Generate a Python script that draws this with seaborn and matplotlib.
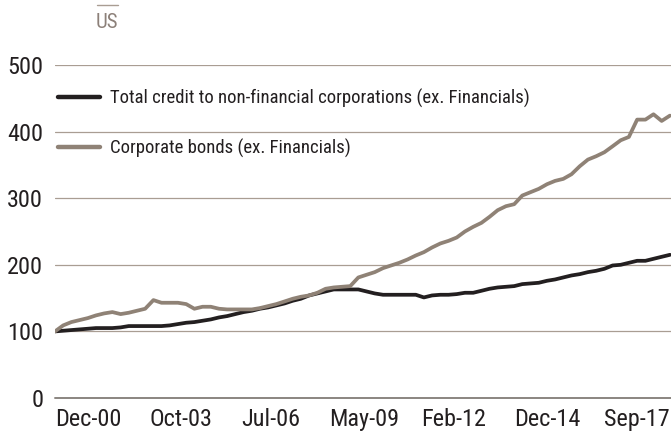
import matplotlib
matplotlib.use("Agg")
import matplotlib.pyplot as plt
from matplotlib import font_manager
from matplotlib.lines import Line2D
import pandas as pd
import seaborn as sns

# Quarterly index levels (Q4 1999 = 100), US
quarters = pd.date_range("1999-12-31", periods=76, freq="QE-DEC")

total_credit = [
    100, 101, 102, 103, 104, 105, 105, 105, 106, 108,
    108, 108, 108, 108, 109, 111, 113, 114, 116, 118,
    121, 123, 126, 129, 131, 134, 136, 139, 142, 146,
    149, 154, 157, 160, 163, 163, 163, 163, 160, 157,
    155, 155, 155, 155, 155, 151, 154, 155, 155, 156,
    158, 158, 161, 164, 166, 167, 168, 171, 172, 173,
    176, 178, 181, 184, 186, 189, 191, 194, 199, 200,
    203, 206, 206, 209, 212, 215,
]

corporate_bonds = [
    100, 109, 114, 117, 120, 124, 127, 129, 126, 128,
    131, 134, 147, 143, 143, 143, 141, 134, 137, 137,
    134, 133, 133, 133, 133, 135, 138, 141, 145, 149,
    152, 154, 158, 164, 166, 167, 168, 181, 185, 189,
    195, 199, 203, 208, 214, 219, 226, 232, 236, 241,
    250, 257, 263, 272, 282, 288, 291, 304, 309, 314,
    321, 326, 329, 336, 348, 358, 363, 369, 378, 387,
    392, 418, 418, 426, 416, 424,
]

series_names = [
    "Total credit to non-financial corporations (ex. Financials)",
    "Corporate bonds (ex. Financials)",
]
series_colors = ["#231f20", "#8f8276"]

tick_dates = ["2000-12-31", "2003-10-31", "2006-07-31", "2009-05-31",
              "2012-02-29", "2014-12-31", "2017-09-30"]
tick_labels = ["Dec-00", "Oct-03", "Jul-06", "May-09", "Feb-12", "Dec-14", "Sep-17"]
y_ticks = [0, 100, 200, 300, 400, 500]

df = pd.concat([
    pd.DataFrame({"date": quarters, "value": total_credit, "series": series_names[0]}),
    pd.DataFrame({"date": quarters, "value": corporate_bonds, "series": series_names[1]}),
])


def first_available(families):
    for fam in families:
        try:
            font_manager.findfont(font_manager.FontProperties(family=fam),
                                  fallback_to_default=False)
            return fam
        except ValueError:
            continue
    return "DejaVu Sans"


# Prefer a narrow sans face for the labels
narrow = first_available(["Roboto Condensed", "Liberation Sans Narrow",
                          "Open Sans Condensed", "Roboto"])

sns.set_theme(style="white")
plt.rcParams["font.family"] = [narrow, "DejaVu Sans"]

text_color = "#231f20"
grid_color = "#a99d93"

fig = plt.figure(figsize=(6.71, 4.32), dpi=100)
ax = fig.add_axes([55 / 671, 34 / 432, 616 / 671, 333 / 432])

sns.lineplot(data=df, x="date", y="value", hue="series",
             palette=dict(zip(series_names, series_colors)),
             linewidth=2.7, ax=ax, legend=False, zorder=3)

ax.set_xlim(pd.Timestamp("1999-12-31"), pd.Timestamp("2018-10-12"))
ax.set_ylim(0, 500)
ax.set_yticks(y_ticks)
ax.set_xticks([pd.Timestamp(d) for d in tick_dates])
ax.set_xticklabels(tick_labels)
ax.set_xlabel("")
ax.set_ylabel("")

for v in y_ticks[1:]:
    ax.axhline(v, color=grid_color, linewidth=0.9, zorder=1)
ax.axhline(0, color="#8a8580", linewidth=1.4, zorder=2, clip_on=False)

for s in ax.spines.values():
    s.set_visible(False)

ax.tick_params(axis="both", length=0, labelsize=17.5, colors=text_color)
ax.tick_params(axis="y", pad=8.5)
ax.tick_params(axis="x", pad=7.5)

handles = [Line2D([], [], color=c, linewidth=3.2) for c in series_colors]
leg = ax.legend(handles, series_names, loc="upper left",
                bbox_to_anchor=(58 / 671, 1 - 89 / 432),
                bbox_transform=fig.transFigure,
                frameon=False, fontsize=13.5, handlelength=2.25,
                handletextpad=0.53, labelspacing=1.62, borderpad=0,
                borderaxespad=0)
for t in leg.get_texts():
    t.set_color(text_color)

# Region label above the plot
fig.text(107 / 671, 1 - 23 / 432, "US", ha="center", va="center",
         fontsize=15, color="#8c8079")
fig.add_artist(Line2D([97 / 671, 118 / 671], [1 - 5 / 432, 1 - 5 / 432],
                      color="#a99d93", linewidth=1.0))

fig.savefig("out.png", dpi=100)
